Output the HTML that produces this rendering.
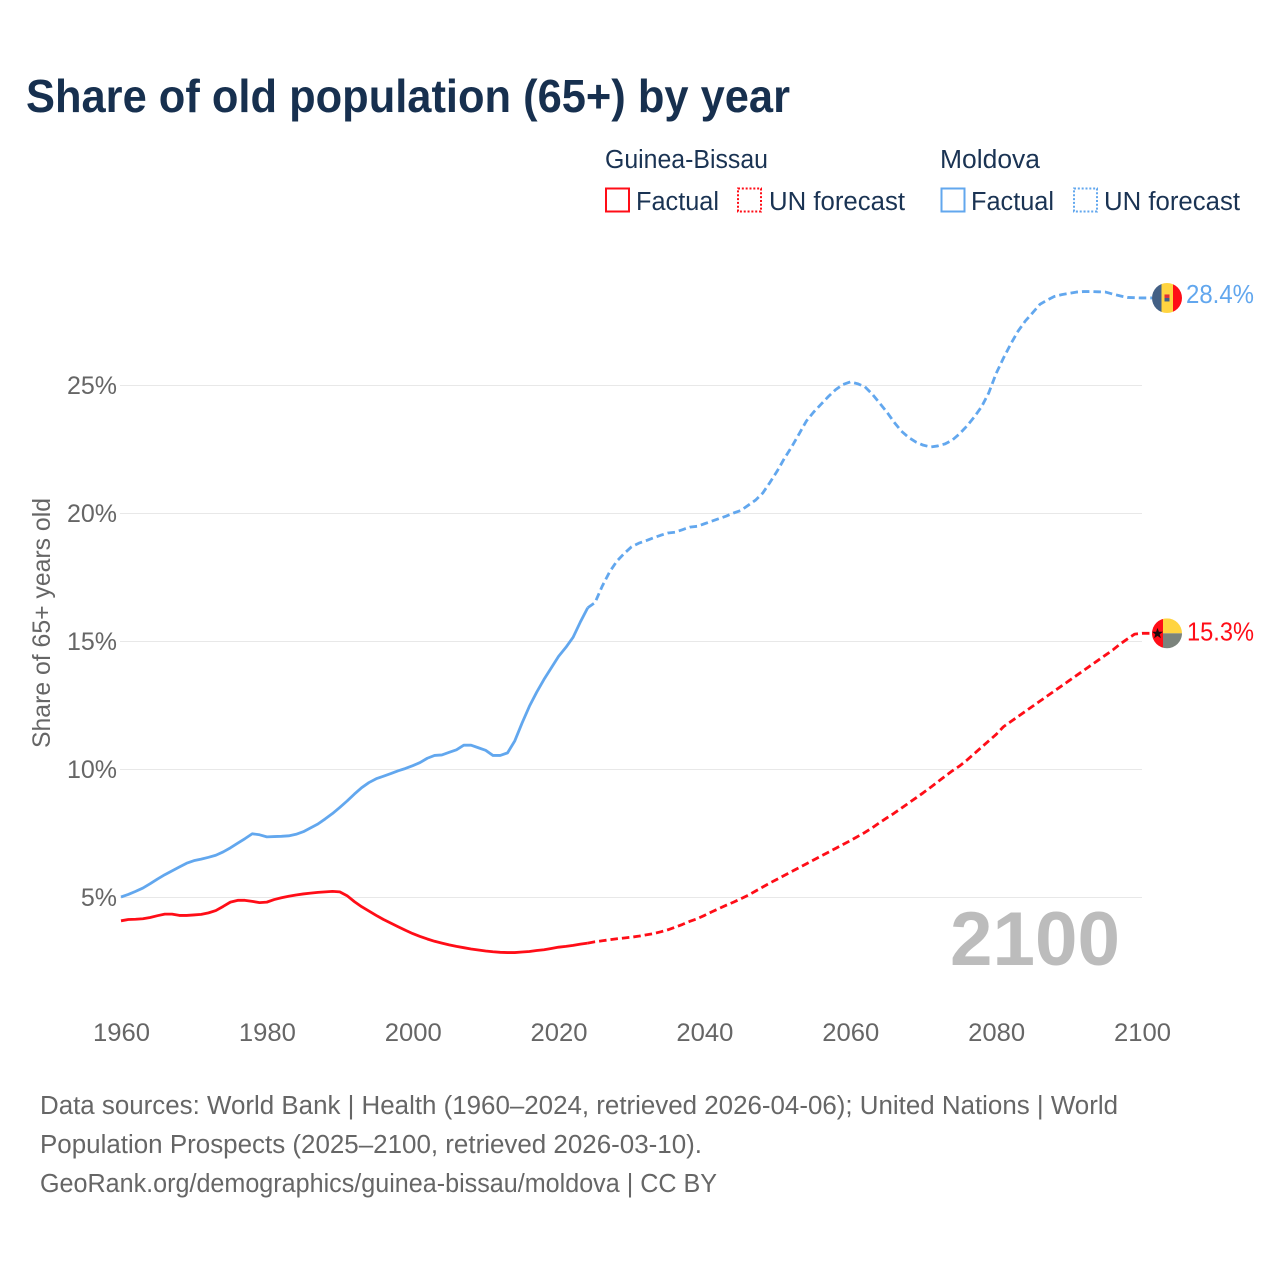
<!DOCTYPE html>
<html lang="en">
<head>
<meta charset="utf-8">
<title>Share of old population (65+) by year</title>
<style>
html,body{margin:0;padding:0;background:#fff;}
svg{display:block;}
text{font-family:"Liberation Sans",sans-serif;}
.legend{fill:#1a3353;font-size:25.5px;}
.tick{fill:#666;font-size:25px;}
.foot{fill:#666;font-size:25.5px;}
</style>
</head>
<body>
<svg id="chart" width="1280" height="1280" viewBox="0 0 1280 1280" xmlns="http://www.w3.org/2000/svg">
  <rect width="1280" height="1280" fill="#fff"/>
  <text x="26" y="112" font-size="46" font-weight="700" fill="#17304f" textLength="764" lengthAdjust="spacingAndGlyphs">Share of old population (65+) by year</text>

  <g>
    <text class="legend" x="605" y="168" textLength="163" lengthAdjust="spacingAndGlyphs">Guinea-Bissau</text>
    <text class="legend" x="940" y="168" textLength="100" lengthAdjust="spacingAndGlyphs">Moldova</text>
    <rect x="606" y="188.500" width="23" height="23" fill="none" stroke="#ff0d17" stroke-width="2"/>
    <text class="legend" x="636" y="210" textLength="83" lengthAdjust="spacingAndGlyphs">Factual</text>
    <rect x="738" y="188.500" width="23" height="23" fill="none" stroke="#ff0d17" stroke-width="2" stroke-dasharray="2 1.830"/>
    <text class="legend" x="769" y="210" textLength="136" lengthAdjust="spacingAndGlyphs">UN forecast</text>
    <rect x="941.500" y="188.500" width="23" height="23" fill="none" stroke="#62a7ee" stroke-width="2"/>
    <text class="legend" x="971" y="210" textLength="83" lengthAdjust="spacingAndGlyphs">Factual</text>
    <rect x="1074" y="188.500" width="23" height="23" fill="none" stroke="#62a7ee" stroke-width="2" stroke-dasharray="2 1.830"/>
    <text class="legend" x="1104" y="210" textLength="136" lengthAdjust="spacingAndGlyphs">UN forecast</text>
  </g>

  <g id="grid"></g>
  <g id="yticks"></g>
  <g id="xticks"></g>
  <text class="tick" transform="translate(50,623) rotate(-90)" text-anchor="middle" textLength="250" lengthAdjust="spacingAndGlyphs">Share of 65+ years old</text>
  <text x="950" y="965" font-size="76" font-weight="700" fill="#bcbcbc" textLength="170" lengthAdjust="spacingAndGlyphs">2100</text>
  <g id="series"></g>
  <g id="endmarks"></g>

  <g>
    <text class="foot" x="40" y="1114" textLength="1078" lengthAdjust="spacingAndGlyphs">Data sources: World Bank | Health (1960–2024, retrieved 2026-04-06); United Nations | World</text>
    <text class="foot" x="40" y="1153" textLength="662" lengthAdjust="spacingAndGlyphs">Population Prospects (2025–2100, retrieved 2026-03-10).</text>
    <text class="foot" x="40" y="1192" textLength="677" lengthAdjust="spacingAndGlyphs">GeoRank.org/demographics/guinea-bissau/moldova | CC BY</text>
  </g>
</svg>
<script>
const xTickYears = [1960, 1980, 2000, 2020, 2040, 2060, 2080, 2100];
const yTickValues = [5, 10, 15, 20, 25];
const yTickLabels = ['5%', '10%', '15%', '20%', '25%'];
const factualStartYear = 1960;
const forecastStartYear = 2024;

const moldovaFactual = [
  5.00,5.10,5.22,5.35,5.52,5.70,5.87,6.02,6.17,6.32,
  6.42,6.48,6.55,6.63,6.76,6.92,7.10,7.28,7.47,7.43,
  7.35,7.36,7.37,7.39,7.45,7.55,7.70,7.85,8.05,8.26,
  8.50,8.75,9.02,9.27,9.47,9.62,9.72,9.82,9.93,10.02,
  10.13,10.25,10.42,10.53,10.55,10.65,10.75,10.93,10.93,10.83,
  10.73,10.53,10.53,10.63,11.10,11.80,12.45,13.00,13.50,13.95,
  14.40,14.75,15.15,15.75,16.30
];
const moldovaForecast = [
  16.30,16.50,17.15,17.70,18.12,18.42,18.68,18.82,18.92,19.03,19.13,
  19.22,19.25,19.35,19.45,19.48,19.58,19.68,19.78,19.88,20.00,
  20.10,20.30,20.50,20.78,21.20,21.65,22.15,22.60,23.10,23.60,
  23.95,24.25,24.55,24.82,25.02,25.12,25.05,24.93,24.65,24.30,
  23.95,23.55,23.20,22.95,22.77,22.65,22.58,22.62,22.70,22.85,
  23.10,23.40,23.75,24.15,24.70,25.45,26.05,26.60,27.10,27.50,
  27.82,28.15,28.32,28.46,28.53,28.58,28.63,28.65,28.65,28.64,
  28.63,28.55,28.48,28.42,28.41,28.40
];
const guineaBissauFactual = [
  4.07,4.12,4.13,4.15,4.20,4.27,4.33,4.33,4.28,4.28,
  4.30,4.32,4.38,4.47,4.63,4.80,4.87,4.87,4.83,4.78,
  4.80,4.90,4.97,5.03,5.08,5.12,5.15,5.18,5.20,5.22,
  5.20,5.05,4.82,4.62,4.45,4.28,4.12,3.98,3.84,3.70,
  3.57,3.46,3.36,3.27,3.20,3.13,3.07,3.02,2.97,2.93,
  2.89,2.86,2.84,2.83,2.83,2.85,2.87,2.91,2.94,2.99,
  3.04,3.07,3.11,3.16,3.20
];
const guineaBissauForecast = [
  3.20,3.25,3.29,3.33,3.37,3.40,3.43,3.47,3.52,3.57,3.64,
  3.72,3.82,3.93,4.05,4.15,4.28,4.42,4.55,4.68,4.80,
  4.93,5.07,5.23,5.39,5.55,5.70,5.85,6.00,6.15,6.30,
  6.45,6.60,6.75,6.90,7.05,7.20,7.36,7.52,7.70,7.90,
  8.09,8.27,8.47,8.67,8.87,9.07,9.28,9.50,9.72,9.93,
  10.12,10.35,10.60,10.85,11.10,11.35,11.65,11.85,12.05,12.25,
  12.45,12.65,12.85,13.05,13.25,13.45,13.65,13.85,14.05,14.25,
  14.45,14.65,14.88,15.08,15.27,15.30
];

const SVG_NS = 'http://www.w3.org/2000/svg';
const MOLDOVA_COLOR = '#62a7ee';
const BISSAU_COLOR = '#ff0d17';
const FLAG_LEFT = 1152;

function xScale(year) { return 121 + (year - 1960) * (1021 / 140); }
function yScale(value) { return 897 - (value - 5) * 25.6; }

function make(tag, parent, attrs) {
  const el = document.createElementNS(SVG_NS, tag);
  Object.keys(attrs).forEach(function (k) { el.setAttribute(k, attrs[k]); });
  parent.appendChild(el);
  return el;
}

function linePath(values, startYear) {
  return values.map(function (v, i) {
    return (i ? 'L' : 'M') + xScale(startYear + i).toFixed(2) + ' ' + yScale(v).toFixed(2);
  }).join(' ');
}

const gridGroup = document.getElementById('grid');
const yTickGroup = document.getElementById('yticks');
yTickValues.forEach(function (v, i) {
  const gy = Math.round(yScale(v)) + 0.5;
  const line = make('line', gridGroup, { x1: 120, x2: 1142, y1: gy, y2: gy, stroke: '#e8e8e8', 'stroke-width': 1 });
  
  
  const label = make('text', yTickGroup, { x: 117, y: yScale(v) + 9, 'text-anchor': 'end', class: 'tick' });
  
  
  label.textContent = yTickLabels[i];
});

const xTickGroup = document.getElementById('xticks');
xTickYears.forEach(function (year) {
  const label = make('text', xTickGroup, { x: xScale(year) + 0.5, y: 1041, 'text-anchor': 'middle', class: 'tick', textLength: 57, lengthAdjust: 'spacingAndGlyphs' });
  
  
  label.textContent = String(year);
});

const seriesGroup = document.getElementById('series');

const moldovaForecastLine = make('path', seriesGroup, { d: linePath(moldovaForecast, forecastStartYear) + ' H' + FLAG_LEFT, fill: 'none', stroke: MOLDOVA_COLOR, 'stroke-width': 2.8, 'stroke-dasharray': '7.500 4', 'stroke-linejoin': 'round' });



const moldovaFactualLine = make('path', seriesGroup, { d: linePath(moldovaFactual, factualStartYear), fill: 'none', stroke: MOLDOVA_COLOR, 'stroke-width': 2.8, 'stroke-linejoin': 'round' });



const bissauForecastLine = make('path', seriesGroup, { d: linePath(guineaBissauForecast, forecastStartYear) + ' H' + FLAG_LEFT, fill: 'none', stroke: BISSAU_COLOR, 'stroke-width': 2.8, 'stroke-dasharray': '7.500 4', 'stroke-linejoin': 'round' });



const bissauFactualLine = make('path', seriesGroup, { d: linePath(guineaBissauFactual, factualStartYear), fill: 'none', stroke: BISSAU_COLOR, 'stroke-width': 2.8, 'stroke-linejoin': 'round' });



const endGroup = document.getElementById('endmarks');
const defs = make('defs', endGroup, {});
const clipA = make('clipPath', defs, { id: 'clip-moldova' });
make('circle', clipA, { cx: 15, cy: 15, r: 15 });
const clipB = make('clipPath', defs, { id: 'clip-bissau' });
make('circle', clipB, { cx: 15, cy: 15, r: 15 });

const lastMoldova = moldovaForecast[moldovaForecast.length - 1];
const lastBissau = guineaBissauForecast[guineaBissauForecast.length - 1];

const moldovaFlag = make('g', endGroup, { transform: 'translate(' + FLAG_LEFT + ' ' + (yScale(lastMoldova) - 15) + ')', 'clip-path': 'url(#clip-moldova)' });


make('rect', moldovaFlag, { x: 0, y: 0, width: 9.5, height: 30, fill: '#436085' });
make('rect', moldovaFlag, { x: 9.5, y: 0, width: 11.5, height: 30, fill: '#ffd440' });
make('rect', moldovaFlag, { x: 21, y: 0, width: 9, height: 30, fill: '#ff0d17' });
make('rect', moldovaFlag, { x: 12.500, y: 11.500, width: 5, height: 3.5, fill: '#e0303a' });
make('rect', moldovaFlag, { x: 12.500, y: 15, width: 5, height: 3.5, fill: '#436085' });

const bissauFlag = make('g', endGroup, { transform: 'translate(' + FLAG_LEFT + ' ' + (yScale(lastBissau) - 15) + ')', 'clip-path': 'url(#clip-bissau)' });


make('rect', bissauFlag, { x: 0, y: 0, width: 11, height: 30, fill: '#ff0d17' });
make('rect', bissauFlag, { x: 11, y: 0, width: 19, height: 15, fill: '#ffd440' });
make('rect', bissauFlag, { x: 11, y: 15, width: 19, height: 15, fill: '#7b837c' });
make('polygon', bissauFlag, { points: '5.500,9.500 6.900,13.400 11,13.400 7.700,15.900 8.900,19.900 5.500,17.500 2.100,19.900 3.300,15.900 0,13.400 4.100,13.400', fill: '#1a0a0a' });

const moldovaEndLabel = make('text', endGroup, { x: 1186, y: yScale(lastMoldova) + 5, 'font-size': 26, fill: MOLDOVA_COLOR, textLength: 68, lengthAdjust: 'spacingAndGlyphs' });


moldovaEndLabel.textContent = lastMoldova.toFixed(1) + '%';

const bissauEndLabel = make('text', endGroup, { x: 1187, y: yScale(lastBissau) + 7, 'font-size': 26, fill: BISSAU_COLOR, textLength: 67, lengthAdjust: 'spacingAndGlyphs' });


bissauEndLabel.textContent = lastBissau.toFixed(1) + '%';
</script>
</body>
</html>
